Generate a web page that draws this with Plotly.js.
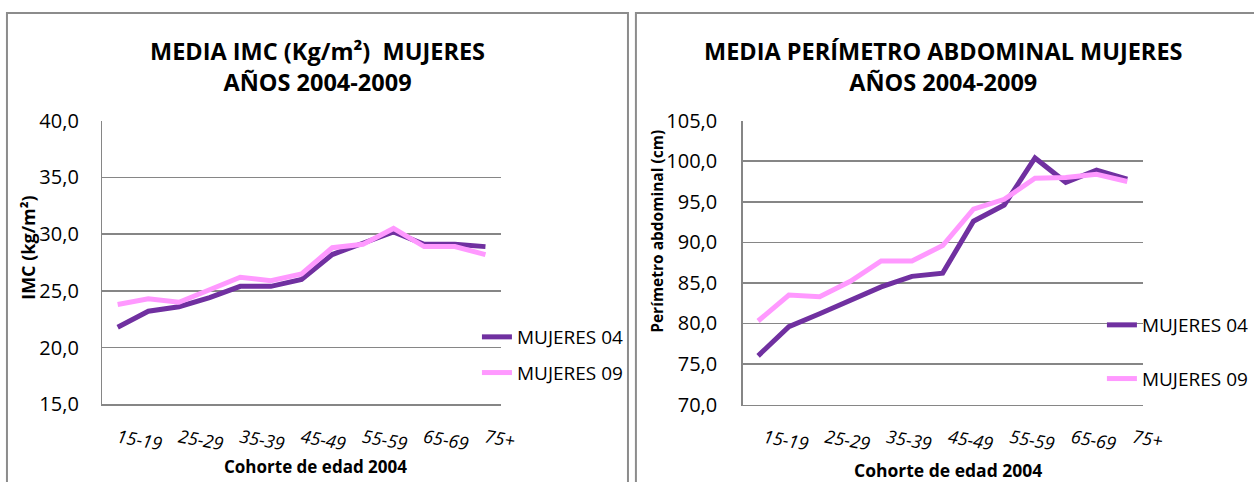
<!DOCTYPE html>
<html>
<head>
<meta charset="utf-8">
<script src="https://cdn.plot.ly/plotly-3.0.1.min.js"></script>
<style>
html,body{margin:0;padding:0;background:#fff;}
#chart{width:1254px;height:482px;}
</style>
</head>
<body>
<div id="chart"></div>
<script>
// ---- data ----
const categories = ['15-19','20-24','25-29','30-34','35-39','40-44','45-49','50-54','55-59','60-64','65-69','70-74','75+'];
const tickLabels = ['15-19','25-29','35-39','45-49','55-59','65-69','75+'];
const imcMujeres04 = [21.8,23.2,23.6,24.4,25.4,25.4,26.0,28.2,29.2,30.2,29.1,29.1,28.9];
const imcMujeres09 = [23.8,24.3,24.0,25.1,26.2,25.9,26.5,28.8,29.1,30.5,28.9,28.9,28.2];
const paMujeres04 = [76.0,79.6,81.2,82.9,84.5,85.8,86.2,92.6,94.6,100.4,97.4,98.9,97.8];
const paMujeres09 = [80.3,83.5,83.3,85.2,87.7,87.7,89.6,94.1,95.3,97.9,98.0,98.4,97.5];
const seriesNames = ['MUJERES 04','MUJERES 09'];

// ---- styling ----
const W = 1254, H = 482;
const C04 = '#7030A0', C09 = '#FF99FF';
const GRID = '#868686';
const FONT = 'Open Sans, Noto Sans, sans-serif';
const px = v => v / W;
const py = v => 1 - v / H;

const traces = [
  {x: categories, y: imcMujeres04, name: seriesNames[0], type: 'scatter', mode: 'lines',
   line: {color: C04, width: 5}, xaxis: 'x', yaxis: 'y', legend: 'legend', legendgroup: 'a'},
  {x: categories, y: imcMujeres09, name: seriesNames[1], type: 'scatter', mode: 'lines',
   line: {color: C09, width: 5}, xaxis: 'x', yaxis: 'y', legend: 'legend', legendgroup: 'b'},
  {x: categories, y: paMujeres04, name: seriesNames[0], type: 'scatter', mode: 'lines',
   line: {color: C04, width: 5}, xaxis: 'x2', yaxis: 'y2', legend: 'legend2', legendgroup: 'c'},
  {x: categories, y: paMujeres09, name: seriesNames[1], type: 'scatter', mode: 'lines',
   line: {color: C09, width: 5}, xaxis: 'x2', yaxis: 'y2', legend: 'legend2', legendgroup: 'd'}
];

const xCommon = {
  type: 'category', range: [-0.5, categories.length - 0.5],
  tickvals: tickLabels, ticktext: tickLabels, tickangle: 10,
  showgrid: false, zeroline: false, showline: true, linecolor: GRID, linewidth: 1.5,
  ticks: '', ticklabelstandoff: 15,
  tickfont: {family: FONT, size: 18, color: '#000', style: 'italic'}
};
const yCommon = {
  showgrid: true, gridcolor: GRID, gridwidth: 1.5, zeroline: false,
  showline: true, linecolor: GRID, linewidth: 1.5, ticks: '',
  tickformat: '.1f', tickfont: {family: FONT, size: 20, color: '#000'}
};

const layout = {
  width: W, height: H,
  margin: {l: 0, r: 0, t: 0, b: 0},
  paper_bgcolor: '#fff', plot_bgcolor: '#fff',
  separators: ',.',
  showlegend: true,
  xaxis: Object.assign({}, xCommon, {domain: [px(103), px(504)], anchor: 'y', ticklabelshift: 0}),
  yaxis: Object.assign({}, yCommon, {domain: [py(404.3), py(120.7)], range: [15, 40], dtick: 5, anchor: 'x', ticklabelstandoff: 18}),
  xaxis2: Object.assign({}, xCommon, {domain: [px(747.5), px(1150)], anchor: 'y2', ticklabelshift: 6}),
  yaxis2: Object.assign({}, yCommon, {domain: [py(404.5), py(120.7)], range: [70, 105], dtick: 5, anchor: 'x2', ticklabelstandoff: 20}),
  legend: {x: px(480), y: py(318), xanchor: 'left', yanchor: 'top', bgcolor: 'rgba(0,0,0,0)',
           traceorder: 'grouped', tracegroupgap: 8, font: {family: FONT, size: 19, color: '#000'}},
  legend2: {x: px(1109), y: py(306), xanchor: 'left', yanchor: 'top', bgcolor: 'rgba(0,0,0,0)',
           traceorder: 'grouped', tracegroupgap: 26, font: {family: FONT, size: 19, color: '#000'}},
  shapes: [
    {type: 'rect', xref: 'paper', yref: 'paper', x0: px(7), x1: px(632), y0: -0.1, y1: py(13),
     line: {color: '#8c8c8c', width: 2}, fillcolor: 'rgba(0,0,0,0)', layer: 'below'},
    {type: 'rect', xref: 'paper', yref: 'paper', x0: px(640), x1: 1.1, y0: -0.1, y1: py(13),
     line: {color: '#8c8c8c', width: 2}, fillcolor: 'rgba(0,0,0,0)', layer: 'below'}
  ],
  annotations: [
    {text: '<b>MEDIA IMC (Kg/m²)  MUJERES<br>AÑOS 2004-2009</b>', xref: 'paper', yref: 'paper',
     x: px(320), y: py(67), xanchor: 'center', yanchor: 'middle', showarrow: false,
     font: {family: FONT, size: 23.5, color: '#000'}},
    {text: '<b>MEDIA PERÍMETRO ABDOMINAL MUJERES<br>AÑOS 2004-2009</b>', xref: 'paper', yref: 'paper',
     x: px(950), y: py(67), xanchor: 'center', yanchor: 'middle', showarrow: false,
     font: {family: FONT, size: 23.5, color: '#000'}},
    {text: '<b>IMC (kg/m²)</b>', xref: 'paper', yref: 'paper', textangle: -90,
     x: px(28), y: py(247), xanchor: 'center', yanchor: 'middle', showarrow: false,
     font: {family: FONT, size: 18, color: '#000'}},
    {text: '<b>Perímetro abdominal (cm)</b>', xref: 'paper', yref: 'paper', textangle: -90,
     x: px(661), y: py(231), xanchor: 'center', yanchor: 'middle', showarrow: false,
     font: {family: FONT, size: 15.5, color: '#000'}},
    {text: '<b>Cohorte de edad 2004</b>', xref: 'paper', yref: 'paper',
     x: px(318), y: py(466), xanchor: 'center', yanchor: 'middle', showarrow: false,
     font: {family: FONT, size: 17, color: '#000'}},
    {text: '<b>Cohorte de edad 2004</b>', xref: 'paper', yref: 'paper',
     x: px(954), y: py(470), xanchor: 'center', yanchor: 'middle', showarrow: false,
     font: {family: FONT, size: 17.5, color: '#000'}}
  ]
};

Plotly.newPlot('chart', traces, layout, {displayModeBar: false, staticPlot: true});
</script>
</body>
</html>
